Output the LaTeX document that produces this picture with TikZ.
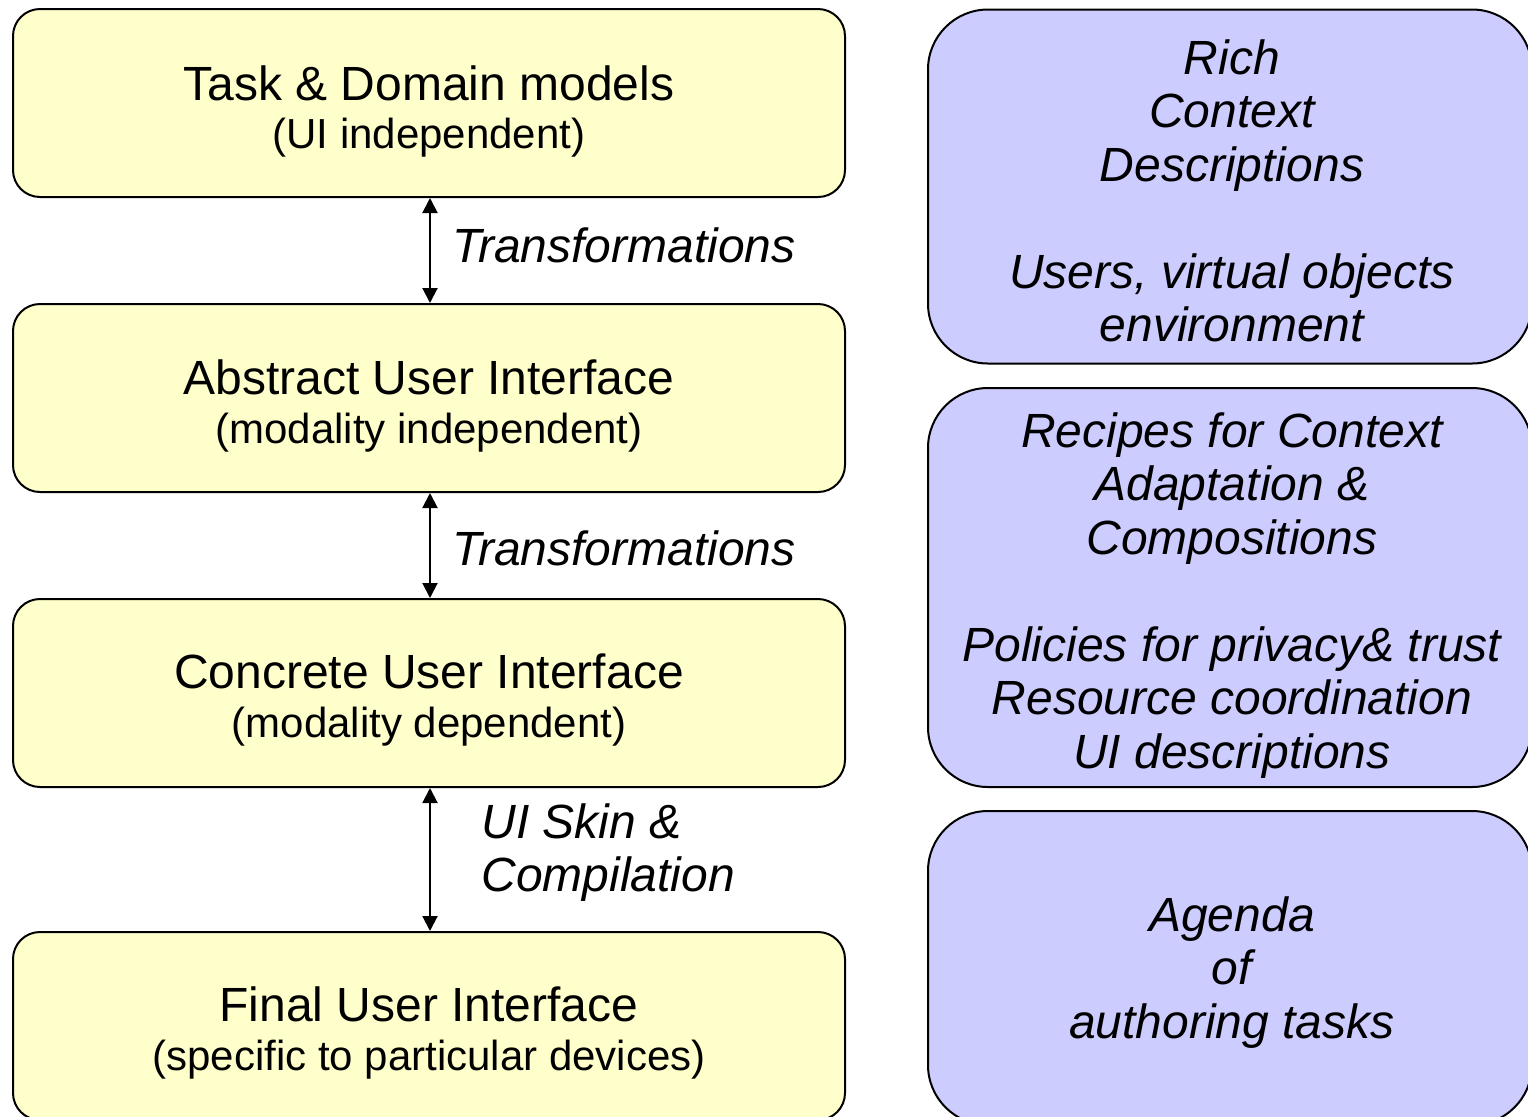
\documentclass[tikz,border=0pt]{standalone}
\usepackage{fontspec}
\setmainfont{Liberation Sans}
\usetikzlibrary{arrows.meta}
\definecolor{yfill}{HTML}{FFFFCC}
\definecolor{bfill}{HTML}{CCCCFF}
\begin{document}
\begin{tikzpicture}[x=0.5pt,y=-0.5pt,
  ybox/.style={draw=black, line width=1pt, fill=yfill, rounded corners=13.5pt,
    minimum width=416pt, minimum height=94pt, inner sep=0pt},
  bbox/.style={draw=black, line width=1pt, fill=bfill, rounded corners=30pt,
    minimum width=302pt, inner sep=0pt},
  ttl/.style={anchor=base, inner sep=0pt, font=\fontsize{24}{26.75}\selectfont},
  sub/.style={anchor=base, inner sep=0pt, font=\fontsize{21}{24}\selectfont},
  rtxt/.style={anchor=base, inner sep=0pt, font=\fontsize{24}{26.75}\selectfont\itshape},
  lbl/.style={anchor=base west, inner sep=0pt, font=\fontsize{24}{26.75}\selectfont\itshape},
  arr/.style={{Triangle[length=7.5pt,width=7.5pt]}-{Triangle[length=7.5pt,width=7.5pt]}, line width=1pt}
]
\useasboundingbox (0,0) rectangle (1528,1116);
\clip (0,0) rectangle (1528,1116);

% left column boxes
\node[ybox] (b1) at (429,103) {};
\node[ybox] (b2) at (429,398) {};
\node[ybox] (b3) at (429,693) {};
\node[ybox] (b4) at (429,1026) {};

\node[ttl] (t1) at (429,100) {Task \& Domain models};
\node[sub] (s1) at (429,148) {(UI independent)};
\node[ttl] (t2) at (429,394) {Abstract User Interface};
\node[sub] (s2) at (429,443) {(modality independent)};
\node[ttl] (t3) at (429,688) {Concrete User Interface};
\node[sub] (s3) at (429,737) {(modality dependent)};
\node[ttl] (t4) at (429,1021) {Final User Interface};
\node[sub] (s4) at (429,1070) {(specific to particular devices)};

% arrows
\coordinate (ax) at (430,0);
\draw[arr] (b1.south -| ax) -- (b2.north -| ax);
\draw[arr] (b2.south -| ax) -- (b3.north -| ax);
\draw[arr] (b3.south -| ax) -- (b4.north -| ax);

\node[lbl] (l1) at (452,262) {Transformations};
\node[lbl] (l2) at (452,565) {Transformations};
\node[lbl] (l3) at (481,838) {\setlength{\tabcolsep}{0pt}\begin{tabular}[t]{l}UI Skin \&\\Compilation\end{tabular}};

% right column boxes
\node[bbox, minimum height=177pt] (r1) at (1230,186.5) {};
\node[bbox, minimum height=199.5pt] (r2) at (1230,587.5) {};
\node[bbox, minimum height=157pt] (r3) at (1230,968) {};

\node[rtxt] (rt1) at (1232,74) {\setlength{\tabcolsep}{0pt}\begin{tabular}[t]{c}Rich\\Context\\Descriptions\\ \\Users, virtual objects\\environment\end{tabular}};
\node[rtxt] (rt2) at (1232,447) {\setlength{\tabcolsep}{0pt}\begin{tabular}[t]{c}Recipes for Context\\Adaptation \&\\Compositions\\ \\Policies for privacy\& trust\\Resource coordination\\UI descriptions\end{tabular}};
\node[rtxt] (rt3) at (1232,931) {\setlength{\tabcolsep}{0pt}\begin{tabular}[t]{c}Agenda\\of\\authoring tasks\end{tabular}};
\end{tikzpicture}
\end{document}
